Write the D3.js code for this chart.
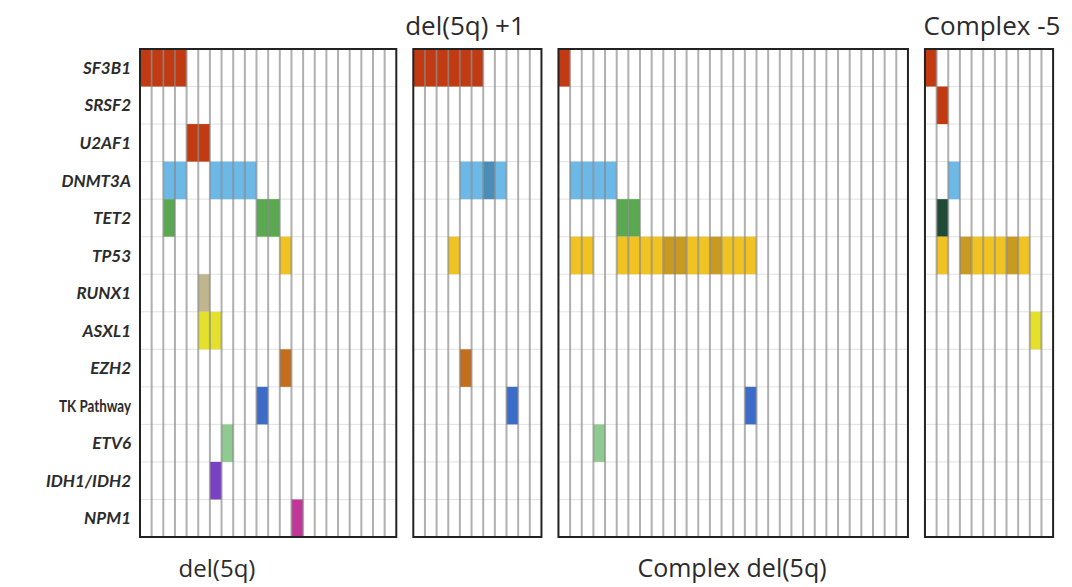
<!DOCTYPE html>
<html>
<head>
<meta charset="utf-8">
<script src="https://cdn.jsdelivr.net/npm/d3@7"></script>
<style>
  html, body { margin: 0; padding: 0; background: #fff; }
  svg { display: block; }
</style>
</head>
<body>
<svg id="chart" width="1072" height="587"></svg>
<script>
// Genes shown as rows (top to bottom)
const genes = ["SF3B1", "SRSF2", "U2AF1", "DNMT3A", "TET2", "TP53", "RUNX1",
  "ASXL1", "EZH2", "TK Pathway", "ETV6", "IDH1/IDH2", "NPM1"];
const italicGenes = genes.filter(g => g !== "TK Pathway");

// Cohort panels: name and number of patients (columns)
const panelNames = ["del(5q)", "del(5q) +1", "Complex del(5q)", "Complex -5"];
const panelSizes = [22, 11, 30, 11];

// Mutated cells per cohort: [gene, patient index, variant (1 = second hit)]
const mutDel5q = [
  ["SF3B1", 0, 0], ["SF3B1", 1, 0], ["SF3B1", 2, 0], ["SF3B1", 3, 0],
  ["U2AF1", 4, 0], ["U2AF1", 5, 0],
  ["DNMT3A", 2, 0], ["DNMT3A", 3, 0], ["DNMT3A", 6, 0], ["DNMT3A", 7, 0], ["DNMT3A", 8, 0], ["DNMT3A", 9, 0],
  ["TET2", 2, 0], ["TET2", 10, 0], ["TET2", 11, 0],
  ["TP53", 12, 0],
  ["RUNX1", 5, 0],
  ["ASXL1", 5, 0], ["ASXL1", 6, 0],
  ["EZH2", 12, 0],
  ["TK Pathway", 10, 0],
  ["ETV6", 7, 0],
  ["IDH1/IDH2", 6, 0],
  ["NPM1", 13, 0]
];
const mutDel5qPlus1 = [
  ["SF3B1", 0, 0], ["SF3B1", 1, 0], ["SF3B1", 2, 0], ["SF3B1", 3, 0], ["SF3B1", 4, 0], ["SF3B1", 5, 0],
  ["DNMT3A", 4, 0], ["DNMT3A", 5, 0], ["DNMT3A", 6, 1], ["DNMT3A", 7, 0],
  ["TP53", 3, 0],
  ["EZH2", 4, 0],
  ["TK Pathway", 8, 0]
];
const mutComplexDel5q = [
  ["SF3B1", 0, 0],
  ["DNMT3A", 1, 0], ["DNMT3A", 2, 0], ["DNMT3A", 3, 0], ["DNMT3A", 4, 0],
  ["TET2", 5, 0], ["TET2", 6, 0],
  ["TP53", 1, 0], ["TP53", 2, 0],
  ["TP53", 5, 0], ["TP53", 6, 0], ["TP53", 7, 0], ["TP53", 8, 0], ["TP53", 9, 1], ["TP53", 10, 1],
  ["TP53", 11, 0], ["TP53", 12, 0], ["TP53", 13, 1], ["TP53", 14, 0], ["TP53", 15, 0], ["TP53", 16, 0],
  ["TK Pathway", 16, 0],
  ["ETV6", 3, 0]
];
const mutComplex5 = [
  ["SF3B1", 0, 0],
  ["SRSF2", 1, 0],
  ["DNMT3A", 2, 0],
  ["TET2", 1, 1],
  ["TP53", 1, 0], ["TP53", 3, 1], ["TP53", 4, 0], ["TP53", 5, 0], ["TP53", 6, 0], ["TP53", 7, 1], ["TP53", 8, 0],
  ["ASXL1", 9, 0]
];
const panelMutations = [mutDel5q, mutDel5qPlus1, mutComplexDel5q, mutComplex5];

// Fill colours per gene: [base, second hit]
const geneColor = {
  "SF3B1": ["#c13a12", "#a8300c"],
  "SRSF2": ["#c13a12", "#a8300c"],
  "U2AF1": ["#c13a12", "#a8300c"],
  "DNMT3A": ["#6cb9e8", "#4a8db8"],
  "TET2": ["#5aa84f", "#1f4a35"],
  "TP53": ["#f1c322", "#c99a22"],
  "RUNX1": ["#bfb58f", "#bfb58f"],
  "ASXL1": ["#e4e02c", "#e4e02c"],
  "EZH2": ["#c26e1c", "#c26e1c"],
  "TK Pathway": ["#3c6cc8", "#3c6cc8"],
  "ETV6": ["#8fca90", "#8fca90"],
  "IDH1/IDH2": ["#7b3fc6", "#7b3fc6"],
  "NPM1": ["#c2369c", "#c2369c"]
};

const svg = d3.select("#chart");

// Layout
const gridTop = 49, gridBottom = 537;
const left0 = 140, colW = 11.65, gap = 17;

const y = d3.scaleBand().domain(genes).range([gridTop, gridBottom]);

// Panel x extents derived from their column counts
let cursor = left0;
const panels = panelSizes.map((n, i) => {
  const x0 = cursor, x1 = cursor + n * colW;
  cursor = x1 + gap;
  const x = d3.scaleBand().domain(d3.range(n)).range([x0, x1]);
  return { name: panelNames[i], n, x0, x1, x, muts: panelMutations[i] };
});

// Row labels: gene names in bold italic, pathway label upright and condensed
const labels = svg.append("g")
  .selectAll("text")
  .data(genes)
  .join("text")
  .attr("x", 131)
  .attr("y", d => y(d) + y.bandwidth() / 2)
  .attr("dy", "0.36em")
  .attr("text-anchor", "end")
  .attr("font-family", "Lato, 'Open Sans', sans-serif")
  .attr("font-weight", 700)
  .attr("font-style", d => italicGenes.includes(d) ? "italic" : "normal")
  .attr("font-size", 17)
  .attr("fill", "#2b2b2b")
  .text(d => d);
labels.filter(d => !italicGenes.includes(d))
  .attr("textLength", 72)
  .attr("lengthAdjust", "spacingAndGlyphs");

panels.forEach(p => {
  const g = svg.append("g");

  // White background
  g.append("rect")
    .attr("x", p.x0).attr("y", gridTop)
    .attr("width", p.x1 - p.x0).attr("height", gridBottom - gridTop)
    .attr("fill", "#fff");

  // Faint horizontal row separators
  g.append("g").selectAll("line")
    .data(genes.slice(1))
    .join("line")
    .attr("x1", p.x0).attr("x2", p.x1)
    .attr("y1", d => y(d)).attr("y2", d => y(d))
    .attr("stroke", "#e2e2e2").attr("stroke-width", 1);

  // Mutation cells
  g.append("g").selectAll("rect")
    .data(p.muts)
    .join("rect")
    .attr("x", d => p.x(d[1]))
    .attr("y", d => y(d[0]))
    .attr("width", p.x.bandwidth())
    .attr("height", y.bandwidth())
    .attr("fill", d => geneColor[d[0]][d[2]]);

  // Vertical column separators drawn over the cells
  g.append("g").selectAll("line")
    .data(d3.range(1, p.n))
    .join("line")
    .attr("x1", d => p.x(d)).attr("x2", d => p.x(d))
    .attr("y1", gridTop).attr("y2", gridBottom)
    .attr("stroke", "#858585").attr("stroke-opacity", 0.65).attr("stroke-width", 2);

  // Panel border
  g.append("rect")
    .attr("x", p.x0).attr("y", gridTop)
    .attr("width", p.x1 - p.x0).attr("height", gridBottom - gridTop)
    .attr("fill", "none")
    .attr("stroke", "#222").attr("stroke-width", 2);
});

// Cohort titles (alternating below / above)
const titleFont = "'Open Sans', 'Noto Sans', sans-serif";
const titlePos = [
  { p: 0, cx: 217, y: 577, size: 24 },
  { p: 1, cx: 465, y: 35, size: 26 },
  { p: 2, cx: 732, y: 577, size: 25 },
  { p: 3, cx: 992, y: 35, size: 26 }
];
svg.append("g").selectAll("text")
  .data(titlePos)
  .join("text")
  .attr("x", d => d.cx)
  .attr("y", d => d.y)
  .attr("text-anchor", "middle")
  .attr("font-family", titleFont)
  .attr("font-size", d => d.size)
  .attr("fill", "#2b2b2b")
  .text(d => panels[d.p].name);
</script>
</body>
</html>
